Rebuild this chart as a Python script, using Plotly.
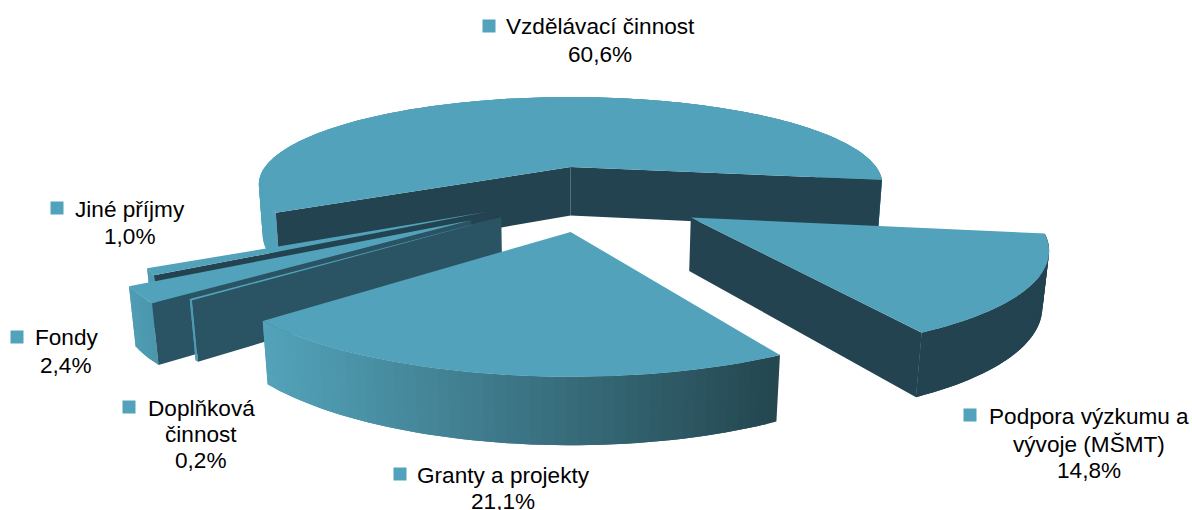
import math
import plotly.graph_objects as go

# --- data ---
categories = ["Vzdělávací činnost", "Podpora výzkumu a vývoje (MŠMT)", "Granty a projekty",
              "Doplňková činnost", "Fondy", "Jiné příjmy"]
values = [60.6, 14.8, 21.1, 0.2, 2.4, 1.0]
label_lines = [["Vzdělávací činnost"], ["Podpora výzkumu a", "vývoje (MŠMT)"], ["Granty a projekty"],
               ["Doplňková", "činnost"], ["Fondy"], ["Jiné příjmy"]]

# --- style / view ---
TOP = "#51A2BA"
DARK = "#22434F"
MID = "#2A5363"
START_ANGLE = -8.5      # boundary between first and second slice
explode = [0.30, 0.37, 0.38, 0.355, 0.44, 0.36]
nudge = [(-0.006, 0), (-0.012, -0.029), (0.003, 0), (0, 0), (0, 0), (0, 0)]
draw_order = [0, 5, 4, 3, 1, 2]
# wall colours: (first edge, last edge) in clockwise sense; None = hidden
radial_walls = [(DARK, DARK), (None, DARK), (None, None), (MID, None), (MID, None), (DARK, None)]
outer_from = [TOP, DARK, "#53A3BA", "#4F9DB4", "#4F9DB4", "#4F9DB4"]
outer_to = ["#4C98AE", DARK, "#24464F", "#4F9DB4", "#4A96AC", "#4F9DB4"]

CX, HORIZON, CY_K, CX_K = 570.0, -255.0, 2123.0, 1537.0
W0, X0 = 4.735, 0.0625
BOTTOM_K, BOTTOM_E = 2395.0, 0.06

label_pos = [[(600, 26), (600, 54)], [(1089, 416), (1089, 444), (1089, 470)], [(503, 475), (503, 501)],
             [(201, 408), (201, 434), (201, 460)], [(66, 337), (66, 365)], [(130, 209), (130, 236)]]
square_pos = [(489, 26), (970, 415), (400, 474), (129, 407), (17, 337), (57, 208)]


def project(px, py, bottom=False):
    w = W0 + py
    if bottom:
        w += BOTTOM_E
        return CX + CX_K * px / w, HORIZON + BOTTOM_K / w
    return CX + CX_K * px / w, HORIZON + CY_K / w


def hex_mix(a, b, t):
    ca = [int(a[i:i + 2], 16) for i in (1, 3, 5)]
    cb = [int(b[i:i + 2], 16) for i in (1, 3, 5)]
    return "#%02X%02X%02X" % tuple(round(p + (q - p) * t) for p, q in zip(ca, cb))


fig = go.Figure()


def poly(points, color):
    xs = [p[0] for p in points] + [points[0][0]]
    ys = [p[1] for p in points] + [points[0][1]]
    fig.add_trace(go.Scatter(x=xs, y=ys, mode="none", fill="toself", fillcolor=color,
                             hoverinfo="skip", showlegend=False))


total = sum(values)
bounds = [None] * len(values)
# first slice runs clockwise up to START_ANGLE; the others follow on from there
a = START_ANGLE
bounds[0] = (a + values[0] / total * 360.0, a)
for j in range(1, len(values)):
    b = a - values[j] / total * 360.0
    bounds[j] = (a, b)
    a = b

for i in draw_order:
    a0, a1 = bounds[i]
    mid = math.radians((a0 + a1) / 2)
    ox = X0 + explode[i] * math.cos(mid) + nudge[i][0]
    oy = explode[i] * math.sin(mid) + nudge[i][1]
    n = max(4, int(abs(a1 - a0) / 1.5))
    angs = [math.radians(a0 + (a1 - a0) * k / n) for k in range(n + 1)]
    rim = [(ox + math.cos(t), oy + math.sin(t)) for t in angs]
    # outer wall: each facet overlaps the next so that no seams show
    xs_top = [project(*p)[0] for p in rim]
    xl, xr = min(xs_top), max(xs_top)
    for k in range(n):
        p, q = rim[k], rim[min(k + 2, n)]
        m = rim[k + 1]
        f = ((project(*p)[0] + project(*m)[0]) / 2 - xl) / max(xr - xl, 1)
        poly([project(*p), project(*m), project(*q), project(*q, True), project(*m, True), project(*p, True)],
             hex_mix(outer_from[i], outer_to[i], f))
    # radial walls
    for color, p in zip(radial_walls[i], (rim[0], rim[-1])):
        if color:
            poly([project(ox, oy), project(*p), project(*p, True), project(ox, oy, True)], color)
    # top face
    poly([project(ox, oy)] + [project(*p) for p in rim], TOP)

# labels
annots = []
for i, lines in enumerate(label_lines):
    pct = f"{values[i]:.1f}%".replace(".", ",")
    for text, (x, y) in zip(lines + [pct], label_pos[i]):
        annots.append(dict(x=x, y=y, text=text, showarrow=False, xanchor="center", yanchor="middle",
                           font=dict(family="Liberation Sans", size=22.6, color="#000000")))

fig.add_trace(go.Scatter(x=[p[0] for p in square_pos], y=[p[1] for p in square_pos], mode="markers",
                         marker=dict(symbol="square", size=13, color=TOP, line=dict(width=0)),
                         text=categories, hoverinfo="text", showlegend=False))

fig.update_layout(width=1192, height=510, margin=dict(l=0, r=0, t=0, b=0),
                  paper_bgcolor="white", plot_bgcolor="white", annotations=annots,
                  xaxis=dict(range=[0, 1192], visible=False, fixedrange=True),
                  yaxis=dict(range=[510, 0], visible=False, fixedrange=True))
fig.write_html("out.html", config={"displayModeBar": False},
               post_script="document.body.style.margin='0';document.body.style.overflow='hidden';")
